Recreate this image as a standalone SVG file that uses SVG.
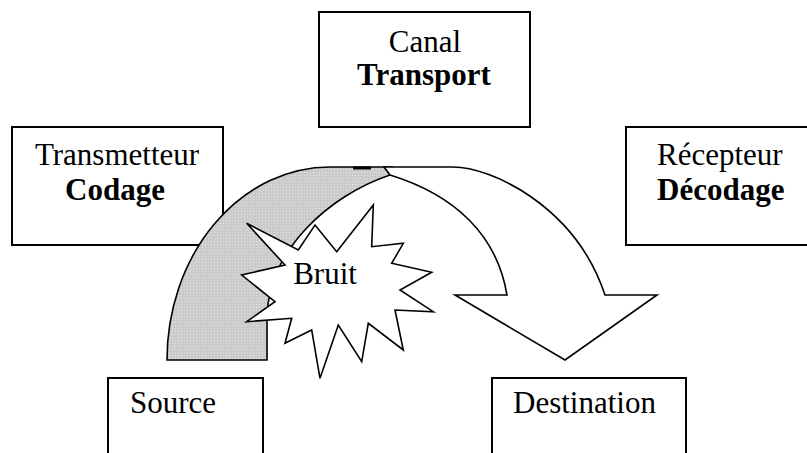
<svg xmlns="http://www.w3.org/2000/svg" width="807" height="453" viewBox="0 0 807 453">
<style>
.box{fill:#fff;stroke:#000;stroke-width:2}
.t{font-family:"Liberation Serif","Times New Roman",serif;font-size:31px;fill:#000}
.b{font-weight:bold}
.shape{stroke:#000;stroke-width:1.6;stroke-linejoin:miter}
</style>
<defs>
<pattern id="dots" width="3" height="3" patternUnits="userSpaceOnUse">
<rect width="3" height="3" fill="#cbcbcb"/>
<rect x="1" y="1" width="1" height="1" fill="#e4e4e4"/>
</pattern>
</defs>
<rect width="807" height="453" fill="#fff"/>
<g id="canal">
<rect class="box" x="319" y="12" width="211" height="115"/>
<text class="t" x="425" y="52" text-anchor="middle">Canal</text>
<text class="t b" x="424" y="85" text-anchor="middle">Transport</text>
</g>
<g id="transmetteur">
<rect class="box" x="12" y="127" width="211" height="118"/>
<text class="t" x="117" y="165" text-anchor="middle">Transmetteur</text>
<text class="t b" x="115" y="200" text-anchor="middle">Codage</text>
</g>
<g id="recepteur">
<rect class="box" x="626" y="127" width="200" height="118"/>
<text class="t" x="657" y="165">Récepteur</text>
<text class="t b" x="657" y="200">Décodage</text>
</g>
<g id="source">
<rect class="box" x="108" y="378" width="155" height="100"/>
<text class="t" x="130" y="413">Source</text>
</g>
<g id="destination">
<rect class="box" x="492" y="378" width="194" height="100"/>
<text class="t" x="513" y="413">Destination</text>
</g>
<g id="connectors">
<path class="shape" fill="url(#dots)" d="M167,360 A163,193 0 0 1 330,167 L392,167 L390,175 C330,195 267,250 267,320 L267,360 Z"/>
<path class="shape" fill="#fff" d="M384,167 L453,167 C490,167 575,205 605,295 L657,295 L565,360 L455,295 L507,295 C497,235 455,195 390,175 Z"/>
<line x1="353" y1="168" x2="371" y2="168" stroke="#000" stroke-width="3"/>
</g>
<g id="bruit">
<path class="shape" fill="#fff" d="M246.7,223.3 L298.3,250 L315,225 L336.7,251.7 L373.3,205 L371.7,246.7 L403.3,243.3 L391.7,263.3 L431.7,272.3 L400,290 L433.3,311.7 L395,310 L403.3,350 L368.3,323.3 L361.7,361.7 L338.3,325 L320,378.3 L311.7,330 L285,343.3 L291.7,318.3 L246.7,321.7 L275,301.7 L241.7,275 L285,265 Z"/>
<text class="t" x="325" y="284" text-anchor="middle">Bruit</text>
</g>
</svg>
